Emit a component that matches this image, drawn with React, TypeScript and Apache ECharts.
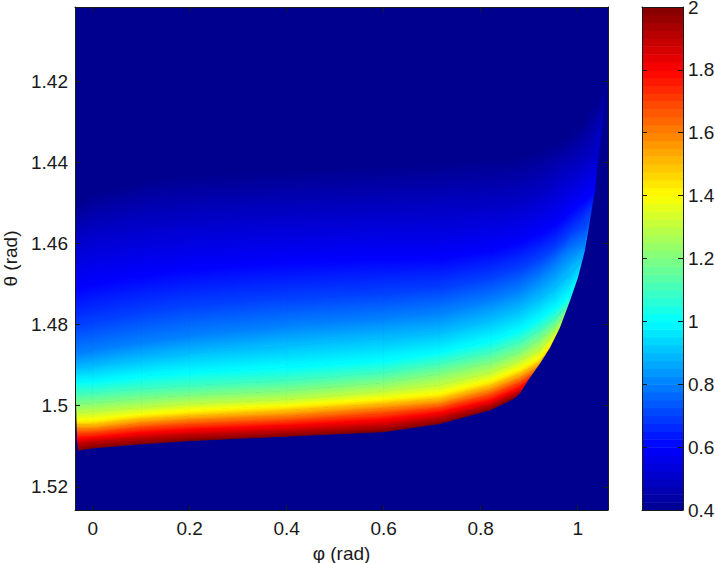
import React, { useEffect, useRef } from "react";
import * as echarts from "echarts";

const phiTicks = [0, 0.2, 0.4, 0.6, 0.8, 1];
const thetaTicks = [1.42, 1.44, 1.46, 1.48, 1.5, 1.52];
const phiRange = [-0.0365, 1.0625];
const thetaRange = [1.4017, 1.5257];
const barRange = [0.4, 2];

// Contour sample columns (rad)
const phiSamples = [-0.0365, 0, 0.1, 0.2, 0.4, 0.6, 0.716, 0.82, 0.881, 0.922, 0.953, 0.984, 1.015, 1.04, 1.0625];
// Iso-value levels and theta of each level at each phi sample
const levels = [0.4, 0.5, 0.6, 0.7, 0.8, 0.9, 1.0, 1.1, 1.2, 1.3, 1.4, 1.5, 1.6, 1.7, 1.8, 1.9, 2.0];
const level04 = [1.4506, 1.4481, 1.4444, 1.4432, 1.442, 1.4412, 1.4402, 1.4395, 1.4388, 1.437, 1.4353, 1.4333, 1.4296, 1.4235, 1.4198];
const level05 = [1.4593, 1.4573, 1.4556, 1.4543, 1.4531, 1.4523, 1.4519, 1.4509, 1.4499, 1.4481, 1.4452, 1.4425, 1.4402, 1.437, 1.4247];
const level06 = [1.4716, 1.4699, 1.4679, 1.4662, 1.4647, 1.4637, 1.4637, 1.4617, 1.4598, 1.4575, 1.4556, 1.4523, 1.4489, 1.4469, 1.4296];
const level07 = [1.4802, 1.4795, 1.477, 1.4753, 1.4736, 1.4723, 1.4711, 1.4686, 1.4662, 1.4637, 1.4612, 1.458, 1.4548, 1.4506, 1.4321];
const level08 = [1.4872, 1.4864, 1.4844, 1.4827, 1.4802, 1.4785, 1.477, 1.4741, 1.4716, 1.4684, 1.4654, 1.4617, 1.4605, 1.4531, 1.4346];
const level09 = [1.4909, 1.4904, 1.4886, 1.4872, 1.4852, 1.4835, 1.4822, 1.479, 1.4765, 1.4736, 1.4711, 1.4674, 1.4637, 1.4548, 1.437];
const level10 = [1.4941, 1.4941, 1.4928, 1.4918, 1.4906, 1.4889, 1.4869, 1.484, 1.4815, 1.4785, 1.476, 1.4728, 1.4667, 1.4568, 1.4395];
const level11 = [1.497, 1.4968, 1.4958, 1.4951, 1.4938, 1.4918, 1.4896, 1.4869, 1.4842, 1.4812, 1.4785, 1.4748, 1.4679, 1.458, 1.4407];
const level12 = [1.4995, 1.4993, 1.4983, 1.4975, 1.4963, 1.4943, 1.4921, 1.4894, 1.4869, 1.4835, 1.4805, 1.476, 1.4704, 1.4593, 1.442];
const level13 = [1.5017, 1.5015, 1.5005, 1.4995, 1.4985, 1.4965, 1.4948, 1.4919, 1.4889, 1.4862, 1.482, 1.4773, 1.4728, 1.4605, 1.4432];
const level14 = [1.5037, 1.5035, 1.5022, 1.5012, 1.5, 1.4983, 1.497, 1.4938, 1.4909, 1.4881, 1.4835, 1.4785, 1.4741, 1.4617, 1.4444];
const level15 = [1.5047, 1.5047, 1.5032, 1.5025, 1.5012, 1.4995, 1.4983, 1.4951, 1.4921, 1.4894, 1.4847, 1.4798, 1.4753, 1.463, 1.4457];
const level16 = [1.5057, 1.5057, 1.5044, 1.5035, 1.5025, 1.5007, 1.4995, 1.4963, 1.4933, 1.4904, 1.4859, 1.481, 1.4765, 1.4642, 1.4469];
const level17 = [1.5069, 1.5067, 1.5054, 1.5047, 1.5037, 1.502, 1.5005, 1.4975, 1.4943, 1.4914, 1.4872, 1.4827, 1.4778, 1.4654, 1.4481];
const level18 = [1.5081, 1.5079, 1.5067, 1.5059, 1.5049, 1.5035, 1.5017, 1.4988, 1.4956, 1.4923, 1.4884, 1.4844, 1.479, 1.4667, 1.4494];
const level19 = [1.5094, 1.5089, 1.5079, 1.5072, 1.5062, 1.5049, 1.503, 1.4998, 1.4965, 1.4936, 1.4901, 1.4864, 1.4802, 1.4691, 1.4506];
const level20 = [1.5111, 1.5104, 1.5094, 1.5086, 1.5075, 1.5064, 1.5044, 1.501, 1.4975, 1.4951, 1.4926, 1.4889, 1.4815, 1.4716, 1.4519];
const contours = [level04, level05, level06, level07, level08, level09, level10, level11, level12, level13, level14, level15, level16, level17, level18, level19, level20];

// Edges of the valid domain: outside them the field is at the floor value
const rightEdgePhi = [0.8666, 0.881, 0.8975, 0.9223, 0.9429, 0.9635, 0.9841, 1.0006, 1.015, 1.0254, 1.0357, 1.0419, 1.0501, 1.0563, 1.0625];
const rightEdgeTheta = [1.4985, 1.497, 1.4938, 1.4896, 1.4857, 1.4807, 1.4741, 1.4684, 1.4617, 1.4543, 1.4469, 1.4395, 1.4314, 1.423, 1.4205];
const leftEdgePhi = [-0.036, -0.0344, -0.0324, -0.0303];
const leftEdgeTheta = [1.4852, 1.4988, 1.5086, 1.5111];

// MATLAB jet colormap anchors
const jetPos = [0, 0.125, 0.375, 0.625, 0.875, 1];
const jetRgb = [
  [0, 0, 143],
  [0, 0, 255],
  [0, 255, 255],
  [255, 255, 0],
  [255, 0, 0],
  [128, 0, 0],
];
const barSteps = 64;

function jet(v: number): string {
  const t = Math.max(0, Math.min(1, (v - barRange[0]) / (barRange[1] - barRange[0])));
  let i = 0;
  while (i < jetPos.length - 2 && t > jetPos[i + 1]) i++;
  const f = (t - jetPos[i]) / (jetPos[i + 1] - jetPos[i]);
  const c = jetRgb[i].map((a, n) => Math.round(a + (jetRgb[i + 1][n] - a) * f));
  return `rgb(${c[0]},${c[1]},${c[2]})`;
}

const FONT = "'Liberation Sans', Arial, sans-serif";
const INK = "#1a1a1a";
const NAVY = "#00008f";

function renderBand(_p: any, api: any) {
  const j = api.value(0);
  const k = api.value(1);
  const a = api.coord([phiSamples[j], contours[k][j]]);
  const b = api.coord([phiSamples[j + 1], contours[k][j + 1]]);
  const c = api.coord([phiSamples[j + 1], contours[k + 1][j + 1]]);
  const d = api.coord([phiSamples[j], contours[k + 1][j]]);
  const tx = (a[0] + b[0]) / 2;
  const ty = (a[1] + b[1]) / 2;
  const bx = (c[0] + d[0]) / 2;
  const by = (c[1] + d[1]) / 2;
  let dx = b[0] - a[0] + c[0] - d[0];
  let dy = b[1] - a[1] + c[1] - d[1];
  const len = Math.hypot(dx, dy) || 1;
  dx /= len;
  dy /= len;
  const nx = -dy;
  const ny = dx;
  const s = (bx - tx) * nx + (by - ty) * ny;
  const grad = new echarts.graphic.LinearGradient(
    tx,
    ty,
    tx + nx * s,
    ty + ny * s,
    [
      { offset: 0, color: jet(levels[k]) },
      { offset: 1, color: jet(levels[k + 1]) },
    ],
    true
  );
  return {
    type: "polygon",
    shape: { points: [a, b, c, d] },
    style: { fill: grad, stroke: grad, lineWidth: 0.8 },
  };
}

function renderMask(_p: any, api: any) {
  const right = rightEdgePhi.map((p, i) => api.coord([p, rightEdgeTheta[i]]));
  right.push(api.coord([phiRange[1], thetaRange[1]]));
  right.push(api.coord([rightEdgePhi[0], thetaRange[1]]));
  const left = leftEdgePhi.map((p, i) => api.coord([p, leftEdgeTheta[i]]));
  left.push(api.coord([phiRange[0], leftEdgeTheta[3]]));
  left.push(api.coord([phiRange[0], leftEdgeTheta[0]]));
  return {
    type: "group",
    children: [
      { type: "polygon", shape: { points: right }, style: { fill: NAVY } },
      { type: "polygon", shape: { points: left }, style: { fill: NAVY } },
    ],
  };
}

function renderBarCell(_p: any, api: any) {
  const i = api.value(0);
  const step = (barRange[1] - barRange[0]) / barSteps;
  const lo = barRange[0] + i * step;
  const p0 = api.coord([0, lo]);
  const p1 = api.coord([1, lo + step]);
  return {
    type: "rect",
    shape: { x: p0[0], y: p1[1], width: p1[0] - p0[0], height: p0[1] - p1[1] + 0.5 },
    style: { fill: jet(lo + step / 2) },
  };
}

const bandCells: number[][] = [];
for (let j = 0; j < phiSamples.length - 1; j++) {
  for (let k = 0; k < levels.length - 1; k++) bandCells.push([j, k]);
}
const barCells = Array.from({ length: barSteps }, (_, i) => [i]);

export default function App() {
  const ref = useRef<HTMLDivElement>(null);
  useEffect(() => {
    const chart = echarts.init(ref.current!, undefined, { renderer: "svg" });
    const line = { show: true, onZero: false, lineStyle: { color: INK, width: 1 } };
    const tick = { show: true, inside: true, length: 5, lineStyle: { color: INK, width: 1 } };
    const label = { color: INK, fontFamily: FONT, fontSize: 19, lineHeight: 14 };
    const nameStyle = { color: INK, fontFamily: FONT, fontSize: 19, lineHeight: 16 };
    chart.setOption({
      animation: false,
      backgroundColor: "#ffffff",
      grid: [
        { left: 75, top: 7, width: 533, height: 503, show: true, backgroundColor: NAVY, borderWidth: 0, outerBoundsMode: "none" },
        { left: 642, top: 7, width: 41, height: 503, show: false, outerBoundsMode: "none" },
      ],
      xAxis: [
        {
          type: "value",
          gridIndex: 0,
          position: "bottom",
          min: phiRange[0],
          max: phiRange[1],
          z: 5,
          name: "φ (rad)",
          nameLocation: "middle",
          nameGap: 35,
          nameTextStyle: nameStyle,
          axisLine: line,
          splitLine: { show: false },
          axisTick: { ...tick, customValues: phiTicks },
          axisLabel: { ...label, margin: 11, customValues: phiTicks },
        },
        {
          type: "value",
          gridIndex: 0,
          position: "top",
          min: phiRange[0],
          max: phiRange[1],
          z: 5,
          axisLine: line,
          splitLine: { show: false },
          axisTick: { ...tick, customValues: phiTicks },
          axisLabel: { show: false },
        },
        {
          type: "value",
          gridIndex: 1,
          min: 0,
          max: 1,
          show: true,
          z: 5,
          axisLine: line,
          axisTick: { show: false },
          axisLabel: { show: false },
          splitLine: { show: false },
        },
        {
          type: "value",
          gridIndex: 1,
          position: "top",
          min: 0,
          max: 1,
          z: 5,
          axisLine: line,
          axisTick: { show: false },
          axisLabel: { show: false },
          splitLine: { show: false },
        },
      ],
      yAxis: [
        {
          type: "value",
          gridIndex: 0,
          position: "left",
          inverse: true,
          min: thetaRange[0],
          max: thetaRange[1],
          z: 5,
          name: "θ (rad)",
          nameLocation: "middle",
          nameRotate: 90,
          nameGap: 57,
          nameTextStyle: nameStyle,
          axisLine: line,
          splitLine: { show: false },
          axisTick: { ...tick, customValues: thetaTicks },
          axisLabel: { ...label, margin: 7, customValues: thetaTicks },
        },
        {
          type: "value",
          gridIndex: 0,
          position: "right",
          inverse: true,
          min: thetaRange[0],
          max: thetaRange[1],
          z: 5,
          axisLine: line,
          splitLine: { show: false },
          axisTick: { ...tick, customValues: thetaTicks },
          axisLabel: { show: false },
        },
        {
          type: "value",
          gridIndex: 1,
          position: "right",
          min: barRange[0],
          max: barRange[1],
          interval: 0.2,
          z: 5,
          axisLine: line,
          splitLine: { show: false },
          axisTick: tick,
          axisLabel: { ...label, margin: 5 },
        },
        {
          type: "value",
          gridIndex: 1,
          position: "left",
          min: barRange[0],
          max: barRange[1],
          interval: 0.2,
          z: 5,
          axisLine: line,
          splitLine: { show: false },
          axisTick: tick,
          axisLabel: { show: false },
        },
      ],
      series: [
        {
          type: "custom",
          coordinateSystem: "cartesian2d",
          xAxisIndex: 0,
          yAxisIndex: 0,
          clip: true,
          silent: true,
          renderItem: renderBand,
          data: bandCells,
          encode: { x: [], y: [] },
          dimensions: ["j", "k"],
        },
        {
          type: "custom",
          coordinateSystem: "cartesian2d",
          xAxisIndex: 0,
          yAxisIndex: 0,
          clip: true,
          silent: true,
          renderItem: renderMask,
          data: [[0, 0]],
          encode: { x: [], y: [] },
          dimensions: ["a", "b"],
        },
        {
          type: "custom",
          coordinateSystem: "cartesian2d",
          xAxisIndex: 2,
          yAxisIndex: 2,
          silent: true,
          renderItem: renderBarCell,
          data: barCells,
          encode: { x: [], y: [] },
          dimensions: ["i"],
        },
      ],
    });
    return () => chart.dispose();
  }, []);
  return <div ref={ref} style={{ position: "fixed", left: 0, top: 0, width: 715, height: 563 }} />;
}
